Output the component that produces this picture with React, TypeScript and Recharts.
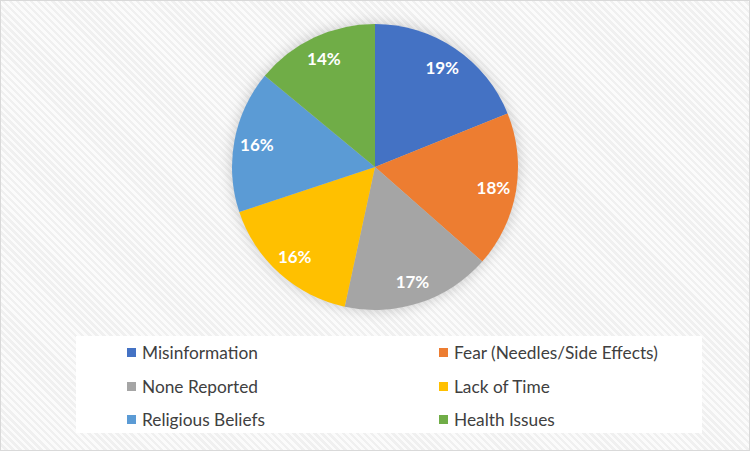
import { PieChart, Pie, Cell, Legend } from "recharts";

const categories = [
  "Misinformation",
  "Fear (Needles/Side Effects)",
  "None Reported",
  "Lack of Time",
  "Religious Beliefs",
  "Health Issues",
];
const shares = [18.9, 17.6, 16.9, 16.5, 16.1, 14.0];
const labels = ["19%", "18%", "17%", "16%", "16%", "14%"];
const colors = ["#4472c4", "#ed7d31", "#a5a5a5", "#ffc000", "#5b9bd5", "#70ad47"];

const data = categories.map((name, i) => ({ name, value: shares[i], label: labels[i] }));

const RAD = Math.PI / 180;

const renderLabel = (props: any) => {
  const { cx, cy, midAngle, outerRadius, index } = props;
  const r = outerRadius * 0.84;
  const x = cx + r * Math.cos(-midAngle * RAD);
  const y = cy + r * Math.sin(-midAngle * RAD);
  return (
    <text
      x={x}
      y={y}
      fill="#fff"
      fontSize={17}
      fontWeight="bold"
      fontFamily="Lato, 'Open Sans', sans-serif"
      textAnchor="middle"
      dominantBaseline="central"
    >
      {data[index].label}
    </text>
  );
};

const LegendBox = () => (
  <div
    style={{
      background: "#fff",
      width: 626,
      height: 97,
      boxSizing: "border-box",
      paddingTop: 0,
      display: "grid",
      gridTemplateColumns: "312px 312px",
      gridAutoRows: "33.5px",
      fontFamily: "Lato, 'Open Sans', sans-serif",
      fontSize: 17.3,
      color: "#404040",
    }}
  >
    {data.map((d, i) => (
      <div key={d.name} style={{ display: "flex", alignItems: "center", paddingLeft: 51 }}>
        <span
          style={{ width: 9, height: 9, background: colors[i], marginRight: 6, display: "inline-block" }}
        />
        <span>{d.name}</span>
      </div>
    ))}
  </div>
);

export default function App() {
  return (
    <div
      style={{
        position: "absolute",
        left: 0,
        top: 0,
        width: 750,
        height: 451,
        boxSizing: "border-box",
        border: "1px solid #d9d9d9",
        background:
          "repeating-linear-gradient(45deg, #fbfbfb 0px, #fbfbfb 2.5px, #f0f0f0 2.5px, #f0f0f0 5px)",
      }}
    >
      <style>{`.recharts-pie { filter: drop-shadow(0 0 7px rgba(0,0,0,0.2)); }`}</style>
      <PieChart
        width={748}
        height={449}
        margin={{ top: 0, right: 0, bottom: 0, left: 0 }}
        style={{ position: "absolute", left: 0, top: 0 }}
      >
        <Pie
          data={data}
          dataKey="value"
          nameKey="name"
          cx={374}
          cy={166}
          outerRadius={143}
          startAngle={90}
          endAngle={-270}
          stroke="none"
          label={renderLabel}
          labelLine={false}
          isAnimationActive={false}
        >
          {data.map((d, i) => (
            <Cell key={d.name} fill={colors[i]} />
          ))}
        </Pie>
        <Legend
          content={() => <LegendBox />}
          wrapperStyle={{ position: "absolute", left: 75, top: 335, width: 626, height: 97 }}
        />
      </PieChart>
    </div>
  );
}
